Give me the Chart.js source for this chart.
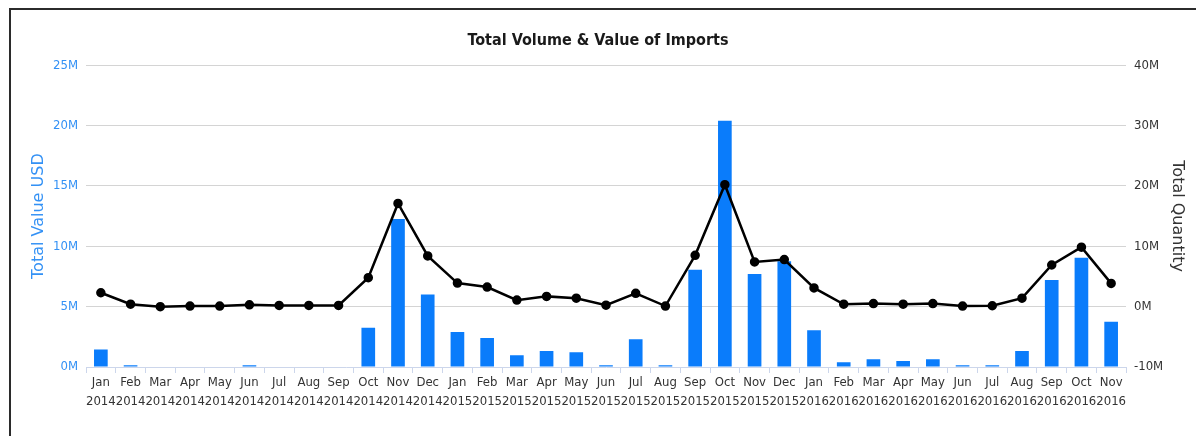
<!DOCTYPE html>
<html lang="en">
<head>
  <meta charset="UTF-8" />
  <title>Total Volume &amp; Value of Imports</title>
  <script src="https://cdn.jsdelivr.net/npm/chart.js"></script>
  <style>
    html, body { margin: 0; padding: 0; background: #fff; }
    #wrap { position: relative; width: 1196px; height: 436px; overflow: hidden; }
    #frame {
      position: absolute; left: 9px; top: 8px; width: 1300px; height: 500px;
      border: 2px solid #2b2b2b; box-sizing: border-box;
    }
    #box { position: absolute; left: 0; top: 0; width: 1196px; height: 436px; }
  </style>
</head>
<body>
  <div id="wrap">
    <div id="frame"></div>
    <div id="box"><canvas id="importsChart"></canvas></div>
  </div>

  <script>
    // monthly import figures, Jan 2014 - Nov 2016
    const months = ["Jan", "Feb", "Mar", "Apr", "May", "Jun", "Jul", "Aug", "Sep", "Oct", "Nov", "Dec",
                    "Jan", "Feb", "Mar", "Apr", "May", "Jun", "Jul", "Aug", "Sep", "Oct", "Nov", "Dec",
                    "Jan", "Feb", "Mar", "Apr", "May", "Jun", "Jul", "Aug", "Sep", "Oct", "Nov"];
    const years = ["2014", "2014", "2014", "2014", "2014", "2014", "2014", "2014", "2014", "2014", "2014", "2014",
                   "2015", "2015", "2015", "2015", "2015", "2015", "2015", "2015", "2015", "2015", "2015", "2015",
                   "2016", "2016", "2016", "2016", "2016", "2016", "2016", "2016", "2016", "2016", "2016"];

    // Total value (USD)
    const totalValue = [1.45e6, 0.15e6, 0, 0, 0, 0.15e6, 0, 0, 0, 3.25e6, 12.25e6, 6.0e6,
                        2.9e6, 2.4e6, 0.97e6, 1.33e6, 1.22e6, 0.15e6, 2.3e6, 0.15e6, 8.05e6, 20.4e6, 7.7e6, 8.75e6,
                        3.05e6, 0.39e6, 0.64e6, 0.5e6, 0.64e6, 0.15e6, 0.15e6, 1.33e6, 7.2e6, 9.05e6, 3.75e6];

    // Total quantity
    const totalQty = [2.3e6, 0.4e6, 0, 0.1e6, 0.1e6, 0.3e6, 0.2e6, 0.2e6, 0.2e6, 4.8e6, 17.1e6, 8.4e6,
                      3.9e6, 3.25e6, 1.08e6, 1.7e6, 1.4e6, 0.25e6, 2.2e6, 0.1e6, 8.5e6, 20.2e6, 7.4e6, 7.8e6,
                      3.1e6, 0.4e6, 0.5e6, 0.4e6, 0.5e6, 0.1e6, 0.15e6, 1.4e6, 6.9e6, 9.85e6, 3.85e6];

    const valueTicks = [0, 5e6, 10e6, 15e6, 20e6, 25e6];
    const qtyTicks = [-10e6, 0, 10e6, 20e6, 30e6, 40e6];

    const narrow = "'Liberation Sans Narrow', 'DejaVu Sans Condensed', sans-serif";
    const wide = "'DejaVu Sans', Verdana, sans-serif";
    const fmtM = v => (v < 0 ? "-" : "") + Math.abs(v / 1e6) + "M";

    const labels = months.map((m, i) => [m, years[i]]);

    new Chart(document.getElementById("importsChart"), {
      data: {
        labels: labels,
        datasets: [
          {
            type: "line",
            label: "Total Quantity",
            data: totalQty,
            yAxisID: "yQty",
            borderColor: "#000",
            borderWidth: 2.5,
            pointRadius: 3.5,
            pointBackgroundColor: "#000",
            pointBorderColor: "#000",
            tension: 0,
            order: 0
          },
          {
            type: "bar",
            label: "Total Value USD",
            data: totalValue,
            yAxisID: "yValue",
            backgroundColor: "#0a7cfb",
            barPercentage: 0.46,
            categoryPercentage: 1,
            order: 1
          }
        ]
      },
      options: {
        responsive: true,
        maintainAspectRatio: false,
        animation: false,
        layout: { padding: { top: 0, left: 0, right: 0, bottom: 25 } },
        plugins: {
          legend: { display: false },
          tooltip: { enabled: false },
          title: {
            display: true,
            text: "Total Volume & Value of Imports",
            color: "#1a1a1a",
            font: { family: narrow, size: 16, weight: "bold" },
            padding: { top: 31, bottom: 15 }
          }
        },
        scales: {
          x: {
            type: "category",
            offset: true,
            grid: { display: true, drawOnChartArea: false, drawTicks: true, tickLength: 6, color: "#ccd6eb", offset: true },
            border: { color: "#ccd6eb" },
            ticks: {
              color: "#333",
              maxRotation: 0,
              autoSkip: false,
              padding: 0,
              font: { family: narrow, size: 13, lineHeight: "19px" }
            }
          },
          yValue: {
            position: "left",
            min: 0,
            max: 25e6,
            afterBuildTicks: s => { s.ticks = valueTicks.map(v => ({ value: v })); },
            afterFit: s => { s.width = 86; },
            grid: {
              drawTicks: false,
              color: c => (c.tick && c.tick.value === 0 ? "rgba(0,0,0,0)" : "#d4d4d4")
            },
            border: { display: false },
            ticks: {
              color: "#3391f5",
              padding: 8,
              callback: fmtM,
              font: { family: narrow, size: 13 }
            },
            title: {
              display: true,
              text: "Total Value USD",
              color: "#3391f5",
              font: { family: wide, size: 16 },
              padding: { top: 29, bottom: 0 }
            }
          },
          yQty: {
            position: "right",
            min: -10e6,
            max: 40e6,
            afterBuildTicks: s => { s.ticks = qtyTicks.map(v => ({ value: v })); },
            afterFit: s => { s.width = 70; },
            grid: { drawOnChartArea: false, drawTicks: false },
            border: { display: false },
            ticks: {
              color: "#333",
              padding: 8,
              callback: fmtM,
              font: { family: narrow, size: 13 }
            },
            title: {
              display: true,
              text: "Total Quantity",
              color: "#333",
              font: { family: wide, size: 16 },
              padding: { top: 9, bottom: 0 }
            }
          }
        }
      }
    });
  </script>
</body>
</html>
